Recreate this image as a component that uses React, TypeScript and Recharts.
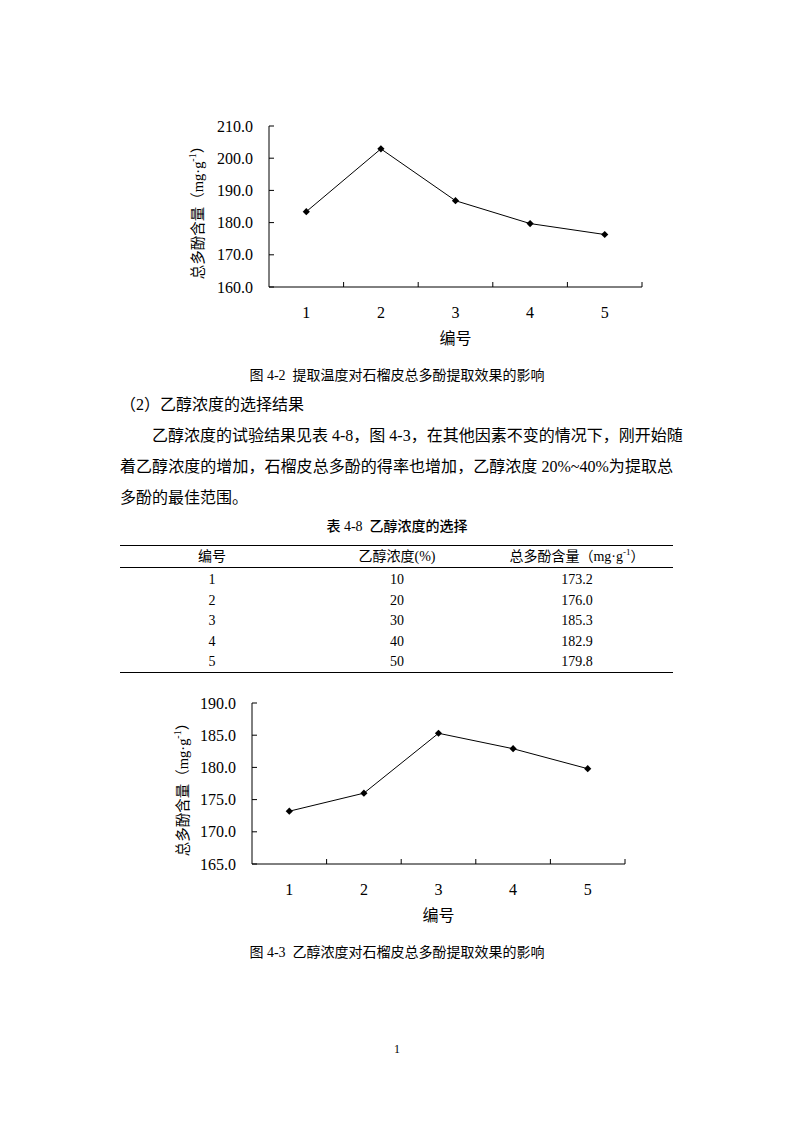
import React from "react";
import { LineChart, Line, XAxis, YAxis } from "recharts";

// sample numbers (编号)
const sampleIds = [1, 2, 3, 4, 5];
// 图 4-2: total polyphenol content by extraction temperature group
const tempContent = [183.4, 202.9, 186.8, 179.7, 176.3];
const tempTicks = [160, 170, 180, 190, 200, 210];
// 表 4-8 / 图 4-3: ethanol concentration
const ethanolPct = [10, 20, 30, 40, 50];
const ethanolContent = [173.2, 176.0, 185.3, 182.9, 179.8];
const ethanolTicks = [165, 170, 175, 180, 185, 190];
// category edges, where Excel puts its tick marks
const bandEdges = [1.5, 2.5, 3.5, 4.5, 5.5];

const LATIN = "'Liberation Serif', 'Times New Roman', 'Noto Sans CJK SC', serif";
const CJK = "'Liberation Serif', 'Noto Sans CJK SC', sans-serif";

const Diamond = (props: any) => {
  const { cx, cy } = props;
  if (cx == null || cy == null) return null;
  const r = 3.6;
  return (
    <path
      d={`M${cx},${cy - r}L${cx + r},${cy}L${cx},${cy + r}L${cx - r},${cy}Z`}
      fill="#000"
    />
  );
};

const XTick = (props: any) => {
  const { x, y, payload } = props;
  const v = payload.value;
  if (Number.isInteger(v)) {
    return (
      <text x={x} y={y + 25} textAnchor="middle" dominantBaseline="central" fontSize={16} fontFamily={LATIN} fill="#000">
        {v}
      </text>
    );
  }
  return <line x1={x} x2={x} y1={y} y2={y - 5} stroke="#000" strokeWidth={1} />;
};

const YTick = (props: any) => {
  const { x, y, payload } = props;
  return (
    <g>
      <line x1={x} x2={x + 5} y1={y} y2={y} stroke="#000" strokeWidth={1} />
      <text x={x - 16} y={y} textAnchor="end" dominantBaseline="central" fontSize={16} fontFamily={LATIN} fill="#000">
        {payload.value.toFixed(1)}
      </text>
    </g>
  );
};

type ChartProps = {
  values: number[];
  yTicks: number[];
  left: number;
  top: number;
  width: number;
  height: number;
  plotLeft: number;
  plotTop: number;
  plotWidth: number;
  plotHeight: number;
  yTitleX: number;
  yTitleY: number;
};

function PolyphenolChart(p: ChartProps) {
  const data = sampleIds.map((id, i) => ({ id, value: p.values[i] }));
  const xTicks = [...sampleIds, ...bandEdges].sort((a, b) => a - b);
  const xCenter = p.plotLeft + p.plotWidth / 2;
  return (
    <div style={{ position: "absolute", left: p.left, top: p.top }}>
      <LineChart
        width={p.width}
        height={p.height}
        data={data}
        margin={{ top: p.plotTop, right: p.width - p.plotLeft - p.plotWidth, bottom: 0, left: 0 }}
      >
        <XAxis
          dataKey="id"
          type="number"
          domain={[0.5, 5.5]}
          ticks={xTicks}
          interval={0}
          tickSize={0}
          tickMargin={0}
          tickLine={false}
          tick={<XTick />}
          height={p.height - p.plotTop - p.plotHeight}
          axisLine={{ stroke: "#000", strokeWidth: 1 }}
          label={{
            content: () => (
              <text
                x={xCenter}
                y={p.plotTop + p.plotHeight + 51}
                textAnchor="middle"
                dominantBaseline="central"
                fontSize={16}
                fontFamily={CJK}
                fill="#000"
              >
                编号
              </text>
            ),
          }}
        />
        <YAxis
          type="number"
          domain={[p.yTicks[0], p.yTicks[p.yTicks.length - 1]]}
          ticks={p.yTicks}
          interval={0}
          width={p.plotLeft}
          tickSize={0}
          tickMargin={0}
          tickLine={false}
          tick={<YTick />}
          axisLine={{ stroke: "#000", strokeWidth: 1 }}
          label={{
            content: () => (
              <text
                transform={`translate(${p.yTitleX},${p.yTitleY}) rotate(-90)`}
                textAnchor="middle"
                dominantBaseline="central"
                fontSize={14.5}
                fontFamily={CJK}
                fill="#000"
              >
                总多酚含量（mg·g
                <tspan dy={-6} fontSize={10}>-1</tspan>
                <tspan dy={6}>）</tspan>
              </text>
            ),
          }}
        />
        <Line
          dataKey="value"
          type="linear"
          stroke="#000"
          strokeWidth={1}
          dot={<Diamond />}
          activeDot={false}
          isAnimationActive={false}
        />
      </LineChart>
    </div>
  );
}

const T = (props: { left?: number; top: number; size: number; width?: number; center?: boolean; justify?: boolean; bold?: boolean; children: React.ReactNode }) => {
  const { left, top, size, width, center, justify, bold, children } = props;
  const style: React.CSSProperties = {
    position: "absolute",
    top: top - size / 2,
    fontSize: size,
    lineHeight: `${size}px`,
    fontFamily: CJK,
    color: "#000",
    whiteSpace: "nowrap",
    fontWeight: bold ? 500 : 400,
  };
  if (center) {
    style.left = 0;
    style.width = 794;
    style.textAlign = "center";
  } else {
    style.left = left;
    if (width) style.width = width;
  }
  if (justify) {
    style.textAlign = "justify";
    style.textAlignLast = "justify";
  }
  return <div style={style}>{children}</div>;
};

const tableHeader = ["编号", "乙醇浓度(%)", "总多酚含量（mg·g"];
const colCenters = [212, 397, 577];
const rowCenters = [580, 600.5, 621, 641.5, 662];

export default function App() {
  return (
    <div style={{ position: "absolute", left: 0, top: 0, width: 794, height: 1123, background: "#fff", overflow: "hidden" }}>
      <PolyphenolChart
        values={tempContent}
        yTicks={tempTicks}
        left={170}
        top={110}
        width={490}
        height={245}
        plotLeft={99}
        plotTop={16}
        plotWidth={373}
        plotHeight={161}
        yTitleX={28}
        yTitleY={99}
      />
      <T top={376} size={14} center>图 4-2&nbsp;&nbsp;提取温度对石榴皮总多酚提取效果的影响</T>
      <T left={120} top={405} size={16}>（2）乙醇浓度的选择结果</T>
      <T left={152} top={436} size={16} width={521} justify>
        乙醇浓度的试验结果见表 4-8，图 4-3，在其他因素不变的情况下，刚开始随
      </T>
      <T left={120} top={467} size={16} width={553} justify>
        着乙醇浓度的增加，石榴皮总多酚的得率也增加，乙醇浓度 20%~40%为提取总
      </T>
      <T left={120} top={498} size={16}>多酚的最佳范围。</T>
      <T top={527} size={14} center bold>表 4-8&nbsp;&nbsp;乙醇浓度的选择</T>

      <div style={{ position: "absolute", left: 120, top: 545, width: 553, height: 0, borderTop: "1.5px solid #000" }} />
      <div style={{ position: "absolute", left: 120, top: 567, width: 553, height: 0, borderTop: "1px solid #000" }} />
      <div style={{ position: "absolute", left: 120, top: 672, width: 553, height: 0, borderTop: "1.5px solid #000" }} />
      {tableHeader.map((h, i) => (
        <div
          key={h}
          style={{
            position: "absolute",
            left: colCenters[i] - 100,
            width: 200,
            top: 557 - 7,
            fontSize: 14,
            lineHeight: "14px",
            textAlign: "center",
            fontFamily: CJK,
            whiteSpace: "nowrap",
          }}
        >
          {h}
          {i === 2 ? (
            <>
              <sup style={{ fontSize: 9, lineHeight: 0 }}>-1</sup>）
            </>
          ) : null}
        </div>
      ))}
      {sampleIds.map((id, r) =>
        [String(id), String(ethanolPct[r]), ethanolContent[r].toFixed(1)].map((cell, c) => (
          <div
            key={`${r}-${c}`}
            style={{
              position: "absolute",
              left: colCenters[c] - 60,
              width: 120,
              top: rowCenters[r] - 7,
              fontSize: 14,
              lineHeight: "14px",
              textAlign: "center",
              fontFamily: LATIN,
            }}
          >
            {cell}
          </div>
        ))
      )}

      <PolyphenolChart
        values={ethanolContent}
        yTicks={ethanolTicks}
        left={170}
        top={690}
        width={470}
        height={250}
        plotLeft={82}
        plotTop={13}
        plotWidth={373}
        plotHeight={161}
        yTitleX={13}
        yTitleY={96}
      />
      <T top={953} size={14} center>图 4-3&nbsp;&nbsp;乙醇浓度对石榴皮总多酚提取效果的影响</T>
      <T top={1049} size={12} center>
        <span style={{ fontFamily: LATIN }}>1</span>
      </T>
    </div>
  );
}
